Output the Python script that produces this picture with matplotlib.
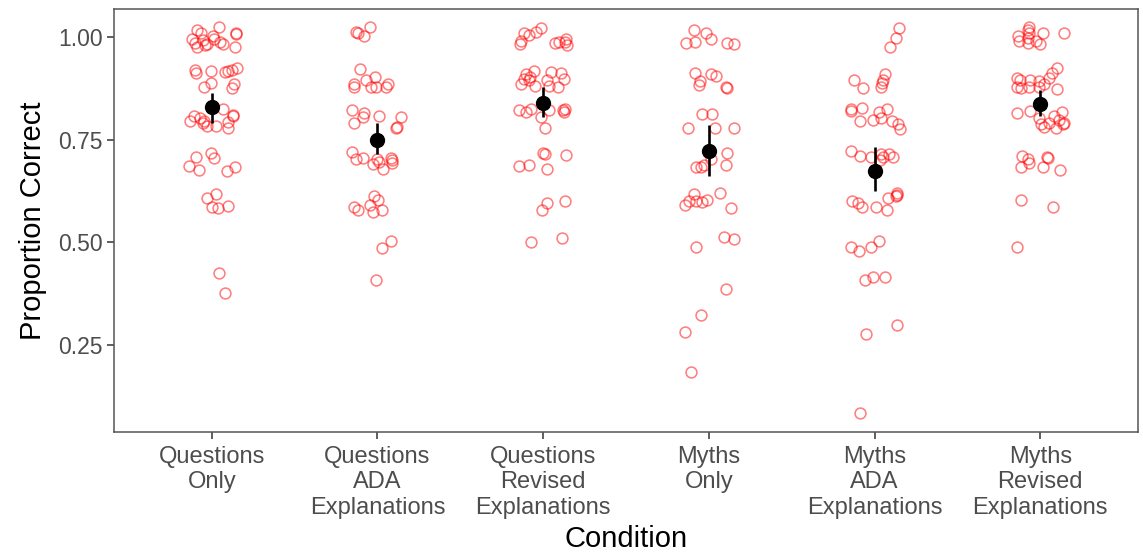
import numpy as np
import matplotlib.pyplot as plt

plt.rcParams['font.family'] = ['Liberation Sans', 'DejaVu Sans']

conditions = ['Questions\nOnly', 'Questions\nADA\nExplanations', 'Questions\nRevised\nExplanations',
              'Myths\nOnly', 'Myths\nADA\nExplanations', 'Myths\nRevised\nExplanations']

# proportion correct per participant, with the horizontal jitter
q_only = [1.019, 1.024, 1.011, 0.995, 0.987, 0.977, 0.981, 0.983, 1.003, 0.995, 0.989, 0.983, 1.010,
          1.007, 0.977, 0.994, 0.920, 0.914, 0.918, 0.916, 0.918, 0.920, 0.924, 0.888, 0.880, 0.885,
          0.876, 0.825, 0.807, 0.797, 0.803, 0.792, 0.784, 0.784, 0.794, 0.778, 0.811, 0.807, 0.797,
          0.717, 0.705, 0.708, 0.686, 0.677, 0.675, 0.685, 0.618, 0.608, 0.586, 0.583, 0.589, 0.425, 0.376]
q_only_jit = [-0.087, 0.046, -0.064, -0.121, -0.100, -0.090, -0.040, -0.030, 0.006, 0.014, 0.050, 0.066, 0.147,
              0.147, 0.141, -0.050, -0.100, -0.094, -0.006, 0.080, 0.100, 0.120, 0.151, -0.006, -0.044, 0.137,
              0.120, 0.070, -0.110, -0.130, -0.070, -0.054, -0.030, 0.026, 0.100, 0.100, 0.127, 0.131, -0.046,
              -0.006, 0.014, -0.094, -0.135, -0.074, 0.090, 0.141, 0.026, -0.026, 0.000, 0.036, 0.100, 0.044, 0.082]

q_ada = [1.014, 1.010, 1.003, 1.024, 0.923, 0.886, 0.880, 0.896, 0.904, 0.878, 0.878, 0.880, 0.886,
         0.823, 0.790, 0.816, 0.805, 0.807, 0.805, 0.778, 0.782, 0.721, 0.703, 0.705, 0.691, 0.703,
         0.695, 0.679, 0.705, 0.693, 0.701, 0.612, 0.604, 0.591, 0.587, 0.579, 0.575, 0.578, 0.504,
         0.486, 0.409]
q_ada_jit = [-0.131, -0.115, -0.080, -0.044, -0.107, -0.141, -0.141, -0.070, -0.014, -0.040, -0.010, 0.050, 0.066,
             -0.151, -0.141, -0.080, -0.090, 0.010, 0.141, 0.110, 0.115, -0.151, -0.127, -0.087, -0.026, 0.000,
             0.010, 0.034, 0.080, 0.090, 0.086, -0.020, 0.006, -0.046, -0.141, -0.115, -0.026, 0.030, 0.080,
             0.030, -0.010]

q_rev = [0.984, 0.992, 1.010, 1.006, 1.014, 1.022, 0.985, 0.989, 0.995, 0.981, 0.989, 0.911, 0.919,
         0.898, 0.886, 0.896, 0.881, 0.916, 0.914, 0.898, 0.896, 0.881, 0.878, 0.904, 0.823, 0.819,
         0.825, 0.805, 0.823, 0.823, 0.825, 0.819, 0.778, 0.719, 0.716, 0.713, 0.686, 0.689, 0.678,
         0.597, 0.579, 0.600, 0.502, 0.510]
q_rev_jit = [-0.139, -0.131, -0.115, -0.084, -0.044, -0.014, 0.070, 0.097, 0.137, 0.143, 0.131, -0.105, -0.058,
             -0.115, -0.131, -0.084, -0.050, 0.050, 0.110, 0.123, 0.026, 0.036, 0.090, -0.080, -0.145, -0.105,
             -0.074, -0.014, 0.036, 0.117, 0.131, 0.125, 0.010, 0.002, 0.010, 0.137, -0.145, -0.084, 0.022,
             0.022, -0.004, 0.131, -0.074, 0.113]

m_only = [1.018, 1.011, 0.995, 0.987, 0.989, 0.985, 0.983, 0.914, 0.911, 0.906, 0.894, 0.884, 0.880,
          0.877, 0.813, 0.813, 0.778, 0.778, 0.778, 0.719, 0.703, 0.685, 0.685, 0.689, 0.689, 0.618,
          0.620, 0.591, 0.602, 0.602, 0.599, 0.604, 0.583, 0.513, 0.509, 0.490, 0.387, 0.323, 0.281, 0.185]
m_only_jit = [-0.090, -0.020, 0.016, -0.137, -0.084, 0.110, 0.151, -0.084, 0.010, 0.044, -0.056, -0.060, 0.105,
              0.107, -0.040, 0.020, -0.125, 0.040, 0.151, 0.110, 0.016, -0.080, -0.050, -0.030, 0.105, -0.090,
              0.070, -0.141, -0.121, -0.080, -0.044, -0.010, 0.131, 0.090, 0.151, -0.080, 0.105, -0.050, -0.145, -0.105]

m_ada = [1.022, 0.998, 0.976, 0.896, 0.876, 0.911, 0.896, 0.888, 0.878, 0.825, 0.821, 0.827, 0.797,
         0.799, 0.819, 0.803, 0.825, 0.797, 0.789, 0.776, 0.724, 0.711, 0.708, 0.716, 0.709, 0.716,
         0.708, 0.701, 0.620, 0.612, 0.608, 0.600, 0.595, 0.586, 0.586, 0.579, 0.616, 0.504, 0.490,
         0.490, 0.478, 0.415, 0.409, 0.415, 0.299, 0.277, 0.085]
m_ada_jit = [0.147, 0.127, 0.092, -0.121, -0.068, 0.066, 0.052, 0.046, 0.040, -0.145, -0.141, -0.074, -0.088,
             -0.008, 0.026, 0.040, 0.076, 0.107, 0.141, 0.153, -0.145, -0.088, -0.020, 0.040, 0.052, 0.087,
             0.113, 0.032, 0.133, 0.127, 0.080, -0.135, -0.100, -0.074, 0.006, 0.076, 0.137, 0.026, -0.020,
             -0.145, -0.094, -0.008, -0.060, 0.066, 0.137, -0.054, -0.088]

m_rev = [1.026, 1.019, 1.003, 0.992, 0.998, 0.985, 0.992, 0.984, 1.010, 1.010, 1.010, 0.924, 0.914,
         0.900, 0.902, 0.896, 0.896, 0.894, 0.886, 0.878, 0.876, 0.878, 0.878, 0.873, 0.816, 0.821,
         0.803, 0.789, 0.782, 0.807, 0.778, 0.799, 0.819, 0.792, 0.789, 0.790, 0.711, 0.703, 0.685,
         0.693, 0.709, 0.707, 0.685, 0.677, 0.604, 0.587, 0.490]
m_rev_jit = [-0.070, -0.076, -0.137, -0.131, -0.076, -0.076, -0.026, 0.000, 0.014, 0.145, -0.066, 0.099, 0.070,
             0.054, -0.143, -0.123, -0.062, -0.006, 0.024, -0.143, -0.117, -0.070, -0.010, 0.099, -0.143, -0.062,
             -0.006, 0.004, 0.024, 0.084, 0.095, 0.115, 0.131, 0.145, 0.139, 0.054, -0.111, -0.076, -0.117,
             -0.070, 0.038, 0.044, 0.014, 0.119, -0.117, 0.078, -0.143]

groups = [q_only, q_ada, q_rev, m_only, m_ada, m_rev]
jitters = [q_only_jit, q_ada_jit, q_rev_jit, m_only_jit, m_ada_jit, m_rev_jit]

means = [0.829, 0.750, 0.841, 0.724, 0.674, 0.838]
ci_low = [0.790, 0.716, 0.805, 0.663, 0.626, 0.808]
ci_high = [0.865, 0.792, 0.878, 0.786, 0.732, 0.872]

fig = plt.figure(figsize=(11.43, 5.54), dpi=100)
ax = fig.add_axes([114 / 1143, 122 / 554, 1024 / 1143, 423 / 554])

for i, (vals, jit) in enumerate(zip(groups, jitters)):
    xs = np.full(len(vals), i + 1.0) + np.array(jit)
    ax.plot(xs, vals, linestyle='none', marker='o', markersize=7.8,
            markerfacecolor='none', markeredgecolor=(1, 0, 0, 0.5), markeredgewidth=1.15, zorder=2)

pos = np.arange(1, len(conditions) + 1)
ax.vlines(pos, ci_low, ci_high, color='black', linewidth=1.9, zorder=3)
ax.plot(pos, means, linestyle='none', marker='o', markersize=10, color='black', zorder=4)

ax.set_xlim(0.41, 6.59)
ax.set_ylim(0.038, 1.069)
ax.set_xticks(pos)
ax.set_xticklabels(conditions, fontsize=17, color='#4d4d4d', linespacing=1.2)
ax.set_yticks([0.25, 0.50, 0.75, 1.00])
ax.set_yticklabels(['0.25', '0.50', '0.75', '1.00'], fontsize=16.5, color='#4d4d4d')
ax.tick_params(length=5, width=1.1, color='#333333', pad=3)
ax.tick_params(axis='x', pad=5)

for s in ax.spines.values():
    s.set_color('#555555')
    s.set_linewidth(1.1)

ax.set_xlabel('Condition', fontsize=21, labelpad=4.5)
ax.set_ylabel('Proportion Correct', fontsize=21, labelpad=8)

plt.savefig('out.png', dpi=100)
